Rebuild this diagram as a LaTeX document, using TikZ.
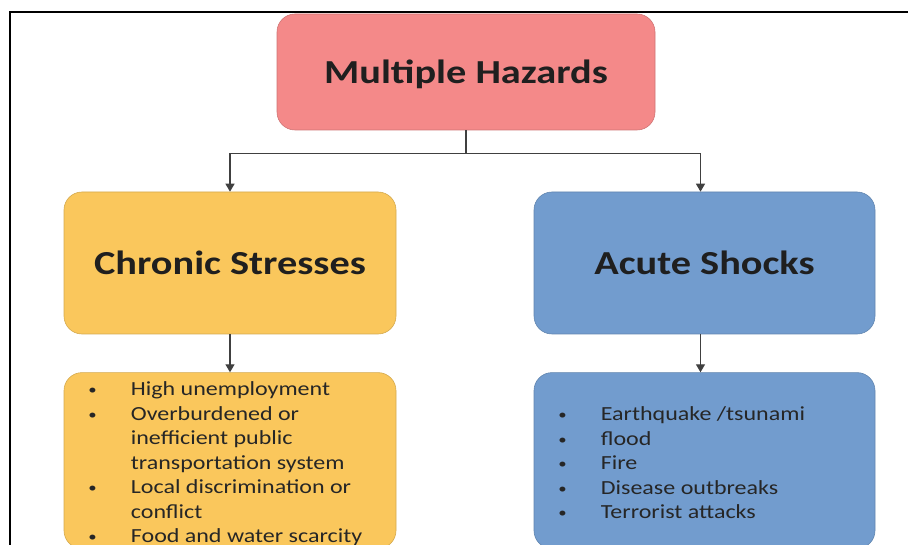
\documentclass[tikz,border=0pt]{standalone}
\usepackage{fontspec}
\setmainfont{Carlito}
\usetikzlibrary{arrows.meta,calc,positioning}
\definecolor{HazardRed}{RGB}{244,137,137}
\definecolor{StressGold}{RGB}{250,199,92}
\definecolor{ShockBlue}{RGB}{114,156,206}
\definecolor{LineGrey}{RGB}{64,64,64}
\newcommand{\wide}[1]{\scalebox{1.2}[1]{#1}}
\newcommand{\itemdot}{\hspace{2pt}\raisebox{0.12ex}{\scalebox{0.7}{•}}}

\begin{document}
\begin{tikzpicture}[x=1pt,y=-1pt,
    box/.style={rounded corners=18pt,draw=#1!85!black,line width=0.6pt,
      fill=#1,inner sep=0pt,text=black!88},
    head/.style={font=\fontsize{33.6}{40}\selectfont\bfseries,text depth=0pt},
    items/.style={font=\fontsize{20}{24.5}\selectfont,inner sep=0pt,
      anchor=north west,text=black!85},
    link/.style={draw=LineGrey,line width=1.3pt,-{Triangle[width=9pt,length=8pt]}}]
  \useasboundingbox (0,0) rectangle (908,545);
  \draw[line width=1.6pt] (10,545) -- (10,12) -- (908,12);

  % top and middle boxes
  \node[box=HazardRed,head,minimum width=378pt,minimum height=116pt] (hazards) at (466,72) {\wide{Multiple Hazards}};
  \node[box=StressGold,head,minimum width=332pt,minimum height=142pt] (chronic) at (230,263) {\wide{Chronic Stresses}};
  \node[box=ShockBlue,head,minimum width=341pt,minimum height=142pt] (acute) at (704.5,263) {\wide{Acute Shocks}};

  % lists
  \node[box=StressGold,minimum width=332pt,minimum height=176pt,below=38pt of chronic] (stresslist) {};
  \node[box=ShockBlue,minimum width=341pt,minimum height=176pt,below=38pt of acute] (shocklist) {};
  \node[items] (stressitems) at ($(stresslist.north west)+(22,6)$) {\wide{\begin{tabular}{@{}p{37.5pt}@{}l@{}}
    \itemdot & High unemployment\\
    \itemdot & Overburdened or\\
      & inefficient public\\
      & transportation system\\
    \itemdot & Local discrimination or\\
      & conflict\\
    \itemdot & Food and water scarcity
  \end{tabular}}};
  \node[items] (shockitems) at ($(shocklist.north west)+(22,31)$) {\wide{\begin{tabular}{@{}p{37.5pt}@{}l@{}}
    \itemdot & Earthquake /tsunami\\
    \itemdot & flood\\
    \itemdot & Fire\\
    \itemdot & Disease outbreaks\\
    \itemdot & Terrorist attacks
  \end{tabular}}};

  \coordinate (split) at ($(hazards.south)+(0,23)$);
  \draw[link,-] (hazards.south) -- (split);
  \draw[link] (split) -| (chronic.north);
  \draw[link] (split) -| ([xshift=-4pt]acute.north);
  \draw[link] (chronic) -- (stresslist);
  \draw[link] ([xshift=-4pt]acute.south) -- ([xshift=-4pt]shocklist.north);
\end{tikzpicture}
\end{document}
